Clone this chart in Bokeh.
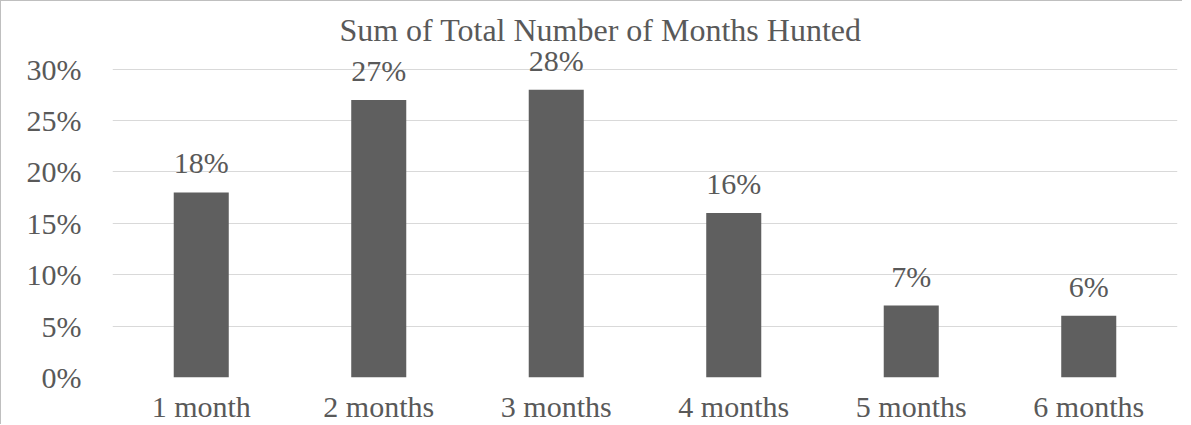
from bokeh.plotting import figure
from bokeh.models import ColumnDataSource, LabelSet, Label, NumeralTickFormatter, FixedTicker
from bokeh.embed import file_html
from bokeh.resources import INLINE

categories = ["1 month", "2 months", "3 months", "4 months", "5 months", "6 months"]
percent_values = [18, 27, 28, 16, 7, 6]
y_ticks = [0, 0.05, 0.10, 0.15, 0.20, 0.25, 0.30]
chart_title = "Sum of Total Number of Months Hunted"

FONT = "Liberation Serif"
TEXT_COLOR = "#595959"
BAR_COLOR = "#5f5f5f"
GRID_COLOR = "#d9d9d9"

source = ColumnDataSource(data=dict(
    cat=categories,
    val=[v / 100 for v in percent_values],
    lab=[f"{v}%" for v in percent_values],
))

FRAME_H = 378          # frame spans from canvas top to the 0% line
AXIS_PX = 310          # pixels from 0% to 30%
y_top = 0.30 * FRAME_H / AXIS_PX

p = figure(
    x_range=categories,
    y_range=(0, y_top),
    width=1182,
    height=424,
    output_backend="svg",
    toolbar_location=None,
    min_border_left=111,
    min_border_right=6,
    min_border_top=0,
    min_border_bottom=46,
)
p.styles = {"border-left": "1px solid #bfbfbf", "border-top": "1px solid #bfbfbf"}
p.outline_line_color = None
p.background_fill_color = "white"
p.border_fill_color = "white"

p.vbar(x="cat", top="val", width=0.31, source=source, color=BAR_COLOR, line_color=None)

labels = LabelSet(x="cat", y="val", text="lab", source=source, y_offset=19,
                  text_align="center", text_baseline="alphabetic",
                  text_font=FONT, text_font_size="30px", text_color=TEXT_COLOR)
p.add_layout(labels)

title = Label(x=488, y=348, x_units="screen", y_units="screen", text=chart_title,
              text_align="center", text_baseline="alphabetic",
              text_font=FONT, text_font_size="32px", text_color=TEXT_COLOR)
p.add_layout(title)

p.yaxis.ticker = FixedTicker(ticks=y_ticks)
p.yaxis.formatter = NumeralTickFormatter(format="0%")
for ax in (p.xaxis, p.yaxis):
    ax.axis_line_color = None
    ax.major_tick_line_color = None
    ax.minor_tick_line_color = None
    ax.major_tick_out = 0
    ax.major_tick_in = 0
    ax.major_label_text_font = FONT
    ax.major_label_text_font_size = "30px"
    ax.major_label_text_color = TEXT_COLOR
p.yaxis.major_label_standoff = 31
p.xaxis.major_label_standoff = 12

p.xgrid.grid_line_color = None
p.ygrid.grid_line_color = GRID_COLOR
p.ygrid.grid_line_width = 1
p.x_range.range_padding = 0

open("out.html", "w").write(file_html(p, INLINE))
